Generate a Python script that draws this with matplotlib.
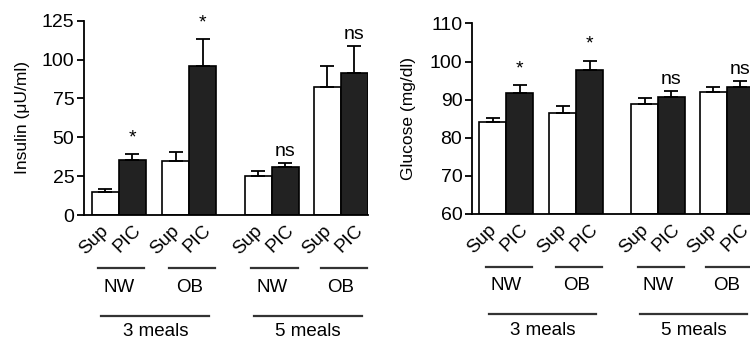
import numpy as np
import matplotlib.pyplot as plt
from matplotlib.transforms import blended_transform_factory, offset_copy

plt.rcParams['font.family'] = ['Liberation Sans', 'DejaVu Sans']
plt.rcParams['font.size'] = 13

# Data
groups = ["NW", "OB", "NW", "OB"]
meals = ["3 meals", "5 meals"]
bar_labels = ["Sup", "PIC"]

insulin_sup = [14.7, 35.0, 25.0, 82.5]
insulin_sup_err = [2.0, 5.5, 3.0, 13.5]
insulin_pic = [35.5, 96.0, 31.0, 91.5]
insulin_pic_err = [3.5, 17.0, 2.5, 17.5]
insulin_marks = ["*", "*", "ns", "ns"]

glucose_sup = [84.2, 86.5, 88.8, 91.9]
glucose_sup_err = [0.9, 1.8, 1.5, 1.4]
glucose_pic = [91.7, 97.7, 90.6, 93.3]
glucose_pic_err = [2.1, 2.5, 1.7, 1.6]
glucose_marks = ["*", "*", "ns", "ns"]

# bar positions (Sup bar of each pair; PIC sits right next to it)
sup_x = np.array([0.0, 2.6, 5.65, 8.2])
pic_x = sup_x + 1

fig = plt.figure(figsize=(7.5, 3.44), dpi=100)
ax1 = fig.add_axes([0.112, 0.375, 0.3787, 0.565])
ax2 = fig.add_axes([0.6293, 0.378, 0.3752, 0.554])


def panel(ax, sup, sup_err, pic, pic_err, marks, ylim, yticks, ylabel):
    bottom = ylim[0]
    kw = dict(width=1.0, edgecolor="black", linewidth=1.2, bottom=bottom,
              error_kw=dict(elinewidth=1.3, capsize=4.7, capthick=1.3))
    ax.bar(sup_x, np.array(sup) - bottom, color="white",
           yerr=[np.zeros(4), sup_err], **kw)
    ax.bar(pic_x, np.array(pic) - bottom, color="#222222",
           yerr=[np.zeros(4), pic_err], **kw)
    ax.set_xlim(-0.78, 9.7)
    ax.set_ylim(*ylim)
    ax.set_yticks(yticks)
    ax.set_xticks([])
    for s in ["top", "right"]:
        ax.spines[s].set_visible(False)
    for s in ["left", "bottom"]:
        ax.spines[s].set_linewidth(1.3)
    ax.tick_params(axis="y", length=5, width=1.3, labelsize=14, pad=2)
    ax.set_ylabel(ylabel, fontsize=12.5)

    # significance marks above PIC bars
    for x, v, e, m in zip(pic_x, pic, pic_err, marks):
        dy = 8 if m == "*" else 3
        t = offset_copy(ax.transData, fig=fig, y=dy, units="dots")
        ax.text(x, v + e, m, ha="center", va="bottom", fontsize=14,
                transform=t)

    trans = blended_transform_factory(ax.transData, ax.transAxes)

    # rotated bar labels
    for xs, lab, dx in [(sup_x, bar_labels[0], 1), (pic_x, bar_labels[1], 6)]:
        for x in xs:
            t = offset_copy(trans, fig=fig, x=dx, y=-13, units="dots")
            ax.text(x, 0, lab, rotation=45, ha="right", va="center",
                    rotation_mode="anchor", fontsize=13.5, transform=t,
                    clip_on=False)

    # group lines and labels
    for x, g in zip(sup_x, groups):
        c = x + 0.5 + 0.1
        t = offset_copy(trans, fig=fig, y=-53, units="dots")
        ax.plot([c - 0.85, c + 0.85], [0, 0], color="#333333", lw=1.6,
                transform=t, clip_on=False)
        t = offset_copy(trans, fig=fig, y=-72, units="dots")
        ax.text(c - 0.1, 0, g, ha="center", va="center", fontsize=13.5,
                transform=t)

    # meals lines and labels
    for i, m in enumerate(meals):
        c = (sup_x[2 * i] + pic_x[2 * i + 1]) / 2 + 0.05
        t = offset_copy(trans, fig=fig, y=-100.5, units="dots")
        ax.plot([c - 2.0, c + 2.0], [0, 0], color="#333333", lw=1.6,
                transform=t, clip_on=False)
        t = offset_copy(trans, fig=fig, y=-117, units="dots")
        ax.text(c, 0, m, ha="center", va="center", fontsize=13.5,
                transform=t)


panel(ax1, insulin_sup, insulin_sup_err, insulin_pic, insulin_pic_err,
      insulin_marks, (0, 125), [0, 25, 50, 75, 100, 125], "Insulin (\u03bcU/ml)")
panel(ax2, glucose_sup, glucose_sup_err, glucose_pic, glucose_pic_err,
      glucose_marks, (60, 110), [60, 70, 80, 90, 100, 110], "Glucose (mg/dl)")

ax1.yaxis.set_label_coords(-0.19, 0.5)
ax2.yaxis.set_label_coords(-0.2, 0.5)

fig.savefig("out.png", dpi=100)
